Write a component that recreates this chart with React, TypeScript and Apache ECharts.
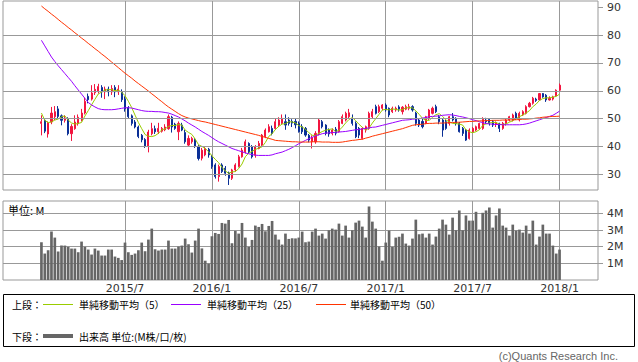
import { useEffect, useRef } from "react";
import * as echarts from "echarts";

// weekly bars, first week starting 2015-01-12; PAD empty weeks on each side
const PAD = 11;
const FIRST_WEEK_UTC = Date.UTC(2015, 0, 12);

const OPEN = [
  48.3, 49.4, 44.5, 48.8, 50.7, 53.5, 51.0, 49.4, 50.0, 44.6,
  46.4, 48.2, 49.5, 52.0, 58.0, 57.0, 59.3, 59.8, 61.2, 59.6,
  60.6, 59.6, 61.2, 59.6, 59.5, 57.0, 54.0, 51.0, 48.8, 47.0,
  44.0, 42.5, 40.2, 44.6, 46.4, 45.3, 45.5, 46.0, 46.4, 50.5,
  48.0, 45.3, 47.7, 45.0, 40.5, 41.7, 42.5, 40.0, 35.8, 37.0,
  39.0, 36.0, 33.4, 29.2, 33.4, 32.2, 30.5, 28.6, 31.6, 32.8,
  36.3, 38.1, 41.1, 39.9, 36.9, 39.3, 40.5, 43.5, 45.3, 46.5,
  46.5, 47.7, 48.3, 48.9, 49.5, 49.0, 49.0, 48.3, 47.1, 46.5,
  44.0, 41.7, 41.7, 44.7, 48.9, 47.7, 45.9, 44.7, 46.2, 45.3,
  48.3, 49.5, 50.7, 50.1, 48.3, 46.5, 42.9, 45.9, 46.5, 50.7,
  54.3, 52.5, 53.7, 54.9, 53.7, 52.5, 53.1, 54.2, 52.5, 53.4,
  53.7, 54.3, 52.0, 49.5, 49.0, 48.3, 50.1, 51.9, 54.3, 50.7,
  49.5, 48.9, 48.3, 50.7, 50.1, 48.3, 46.5, 45.9, 42.9, 45.3,
  45.9, 46.5, 46.5, 49.5, 49.7, 48.9, 47.9, 48.3, 46.5, 48.3,
  49.5, 49.5, 51.9, 49.5, 51.3, 51.9, 54.3, 55.5, 57.0, 56.7,
  59.0, 58.4, 56.7, 57.0, 58.2, 60.2,
];
const CLOSE = [
  48.9, 45.5, 48.5, 52.0, 52.5, 50.8, 49.4, 50.2, 44.6, 47.2,
  48.8, 50.5, 52.0, 56.2, 56.8, 59.2, 60.5, 61.5, 59.6, 60.6,
  59.6, 60.8, 59.6, 60.6, 56.8, 53.5, 50.7, 48.3, 47.0, 43.6,
  42.4, 40.2, 45.2, 46.4, 45.3, 46.5, 46.5, 47.0, 50.7, 47.0,
  46.5, 48.3, 45.9, 41.7, 42.9, 42.9, 40.0, 35.7, 38.7, 39.3,
  37.0, 32.8, 29.2, 32.8, 31.0, 30.4, 28.6, 31.6, 33.4, 36.3,
  38.7, 41.7, 38.1, 36.3, 39.9, 41.1, 44.1, 45.9, 47.1, 44.7,
  48.9, 49.5, 50.1, 47.7, 48.3, 48.4, 47.8, 45.3, 45.3, 44.1,
  42.3, 43.2, 44.7, 49.5, 47.1, 44.7, 44.5, 45.9, 44.8, 48.9,
  50.7, 51.9, 52.1, 48.3, 43.5, 44.1, 46.5, 47.1, 51.9, 52.5,
  51.9, 54.3, 54.9, 53.1, 51.3, 53.7, 53.7, 53.4, 54.1, 54.3,
  54.3, 53.1, 48.3, 47.7, 47.1, 50.7, 53.1, 53.7, 52.5, 48.9,
  45.9, 46.5, 50.7, 49.5, 48.3, 45.3, 44.7, 42.3, 45.9, 46.5,
  47.1, 48.3, 49.8, 48.9, 48.3, 47.7, 48.6, 46.5, 48.3, 49.5,
  50.7, 51.3, 50.1, 51.9, 52.5, 54.3, 55.5, 57.3, 56.5, 59.0,
  57.8, 56.7, 57.3, 57.8, 60.2, 62.0,
];
const LOW = [
  44.0, 44.8, 43.2, 48.0, 49.5, 50.0, 47.6, 48.6, 44.0, 42.0,
  46.0, 47.5, 49.0, 51.5, 55.5, 56.5, 58.5, 59.0, 57.5, 57.0,
  58.0, 58.5, 57.7, 58.5, 56.0, 52.5, 50.0, 47.5, 46.5, 43.0,
  41.5, 39.5, 37.9, 44.0, 44.5, 44.5, 45.0, 45.5, 46.0, 45.0,
  46.0, 42.3, 45.5, 41.0, 40.0, 41.0, 39.5, 35.0, 35.0, 36.5,
  36.0, 32.0, 28.5, 27.4, 30.5, 29.5, 26.2, 28.0, 31.0, 32.5,
  36.0, 37.5, 37.5, 35.7, 36.0, 39.0, 40.0, 43.0, 45.0, 44.0,
  46.0, 47.0, 48.0, 46.0, 47.5, 47.0, 46.5, 45.0, 44.5, 43.5,
  41.5, 39.3, 41.0, 44.0, 46.5, 44.0, 43.5, 44.0, 44.0, 45.0,
  48.0, 49.0, 50.0, 47.5, 43.0, 43.0, 42.5, 45.0, 46.0, 50.0,
  51.5, 52.0, 53.0, 52.5, 50.5, 52.0, 52.5, 52.5, 51.5, 53.0,
  53.0, 52.5, 47.5, 47.0, 46.5, 48.0, 49.5, 51.5, 52.0, 48.0,
  43.5, 46.0, 47.5, 49.0, 47.5, 45.0, 43.8, 42.0, 42.5, 45.0,
  45.5, 46.0, 46.0, 48.3, 47.5, 47.0, 47.0, 45.2, 46.0, 47.5,
  49.0, 49.0, 49.5, 49.0, 51.0, 51.5, 54.0, 55.0, 56.0, 56.5,
  57.5, 56.0, 56.5, 56.5, 57.8, 60.0,
];
const HIGH = [
  51.2, 50.2, 49.0, 54.2, 54.5, 54.5, 51.5, 51.2, 50.5, 48.0,
  51.2, 51.5, 53.5, 57.5, 59.0, 62.0, 62.4, 62.5, 62.0, 61.5,
  61.5, 62.0, 62.0, 62.0, 60.5, 58.0, 54.5, 51.5, 49.5, 47.5,
  44.5, 43.0, 46.0, 48.5, 47.5, 48.5, 47.0, 48.0, 51.5, 51.0,
  48.5, 49.0, 48.5, 46.0, 44.0, 43.5, 43.0, 40.5, 39.5, 40.0,
  39.5, 37.0, 34.0, 33.5, 34.0, 33.0, 31.0, 32.0, 34.0, 37.0,
  39.5, 42.5, 41.5, 40.5, 40.5, 42.0, 44.5, 46.5, 48.0, 47.5,
  50.0, 50.5, 51.5, 51.5, 50.5, 49.8, 50.0, 49.0, 48.0, 47.0,
  44.5, 44.0, 45.5, 50.0, 49.5, 48.0, 46.5, 46.5, 47.0, 49.5,
  51.5, 52.5, 53.5, 51.5, 49.0, 47.0, 47.0, 47.5, 52.5, 53.5,
  55.0, 55.0, 55.2, 55.5, 54.0, 54.3, 54.3, 54.8, 54.5, 55.0,
  55.3, 54.8, 52.5, 50.0, 50.0, 51.0, 53.5, 54.3, 55.0, 51.3,
  50.0, 49.5, 51.0, 52.0, 50.5, 48.8, 47.0, 46.2, 46.5, 47.0,
  47.5, 48.5, 50.5, 50.3, 50.0, 49.5, 49.0, 48.5, 48.8, 50.0,
  51.0, 51.8, 52.5, 52.5, 53.0, 54.8, 56.0, 57.8, 57.5, 59.2,
  59.2, 58.8, 58.0, 58.2, 60.5, 62.6,
];
// million shares per week
const VOLUME = [
  2.27, 1.59, 1.79, 2.91, 2.55, 1.71, 2.07, 2.07, 1.99, 1.89,
  1.89, 1.67, 2.31, 1.99, 1.83, 1.53, 1.89, 1.77, 1.47, 1.47,
  1.83, 1.83, 1.41, 1.33, 1.20, 2.25, 1.67, 1.51, 1.59, 1.79,
  2.25, 1.73, 2.43, 3.09, 1.85, 1.77, 1.83, 1.83, 2.37, 1.89,
  1.89, 2.01, 2.07, 2.49, 2.15, 1.65, 2.37, 3.09, 1.90, 1.16,
  0.98, 2.63, 2.83, 2.77, 3.43, 3.39, 3.61, 2.21, 2.95, 2.79,
  3.43, 2.55, 1.99, 2.41, 3.27, 3.19, 3.37, 2.93, 3.25, 3.55,
  2.73, 2.43, 2.13, 2.79, 2.47, 2.51, 2.50, 2.55, 2.91, 2.27,
  2.31, 2.91, 3.09, 2.67, 2.79, 2.49, 2.99, 3.09, 3.03, 3.39,
  2.67, 3.27, 2.55, 2.99, 3.45, 3.57, 3.21, 2.55, 4.42, 3.51,
  3.09, 2.01, 1.16, 2.25, 2.97, 1.99, 2.55, 2.60, 2.79, 2.19,
  2.07, 2.49, 3.63, 2.75, 2.79, 2.55, 2.79, 2.13, 2.61, 3.09,
  3.63, 3.33, 2.73, 3.75, 2.99, 4.18, 2.99, 3.88, 3.57, 3.57,
  4.10, 3.03, 4.04, 4.18, 4.36, 3.15, 3.88, 4.30, 3.27, 3.15,
  2.67, 3.33, 2.97, 3.03, 2.85, 3.27, 2.79, 3.57, 2.13, 2.61,
  3.33, 2.79, 2.79, 2.07, 1.59, 1.83,
];
const MA25 = [
  78.1, 76.1, 74.1, 72.1, 70.5, 69.0, 67.6, 66.2, 64.8, 63.4,
  61.8, 60.3, 58.8, 57.3, 55.8, 54.9, 54.2, 53.6, 53.3, 53.2,
  53.2, 53.2, 53.3, 53.5, 53.7, 53.9, 53.9, 53.8, 53.5, 53.2,
  52.9, 52.7, 52.6, 52.6, 52.5, 52.5, 52.4, 52.2, 52.0, 51.6,
  51.1, 50.6, 49.9, 49.2, 48.4, 47.7, 47.0, 46.2, 45.4, 44.7,
  44.0, 43.2, 42.4, 41.7, 41.1, 40.5, 39.9, 39.3, 38.9, 38.5,
  38.1, 37.7, 37.4, 37.1, 36.9, 36.8, 36.8, 36.8, 36.8, 37.0,
  37.4, 37.7, 38.0, 38.5, 39.0, 39.6, 40.3, 41.0, 41.6, 42.2,
  42.8, 43.3, 43.8, 44.2, 44.6, 44.8, 44.9, 45.0, 45.1, 45.2,
  45.3, 45.4, 45.6, 45.8, 46.0, 46.1, 46.3, 46.5, 46.7, 46.9,
  47.0, 47.3, 47.6, 47.9, 48.2, 48.5, 48.8, 49.1, 49.4, 49.5,
  49.6, 49.8, 49.9, 50.0, 50.2, 50.4, 50.7, 50.8, 50.9, 51.0,
  51.2, 51.3, 51.4, 51.3, 51.1, 50.8, 50.6, 50.3, 50.0, 49.6,
  49.3, 48.9, 48.6, 48.2, 48.1, 48.0, 47.9, 47.9, 47.8, 47.8,
  47.8, 47.8, 47.8, 47.8, 47.9, 48.1, 48.4, 48.8, 49.2, 49.6,
  50.0, 50.4, 50.8, 51.2, 51.9, 52.7,
];
const MA50 = [
  90.4, 89.4, 88.5, 87.5, 86.6, 85.6, 84.6, 83.7, 82.7, 81.8,
  80.8, 79.9, 78.9, 78.0, 77.0, 76.1, 75.1, 74.2, 73.2, 72.3,
  71.3, 70.3, 69.3, 68.3, 67.3, 66.3, 65.4, 64.5, 63.5, 62.6,
  61.7, 60.8, 59.9, 58.9, 58.0, 57.0, 56.1, 55.1, 54.2, 53.4,
  52.6, 51.8, 51.1, 50.6, 50.2, 49.9, 49.6, 49.3, 49.0, 48.8,
  48.5, 48.2, 47.9, 47.6, 47.3, 47.0, 46.7, 46.4, 46.1, 45.8,
  45.5, 45.2, 44.9, 44.6, 44.3, 44.0, 43.6, 43.3, 42.9, 42.6,
  42.2, 42.1, 42.0, 41.9, 41.8, 41.7, 41.7, 41.6, 41.6, 41.6,
  41.6, 41.7, 41.7, 41.7, 41.6, 41.6, 41.6, 41.5, 41.5, 41.5,
  41.6, 41.8, 42.0, 42.2, 42.3, 42.5, 42.6, 43.0, 43.3, 43.7,
  44.0, 44.3, 44.6, 44.9, 45.2, 45.5, 45.8, 46.1, 46.4, 46.8,
  47.2, 47.6, 47.8, 47.9, 48.0, 48.2, 48.3, 48.3, 48.4, 48.4,
  48.4, 48.5, 48.5, 48.6, 48.7, 48.7, 48.8, 48.9, 49.0, 49.0,
  49.1, 49.2, 49.2, 49.3, 49.3, 49.4, 49.4, 49.4, 49.5, 49.5,
  49.5, 49.6, 49.6, 49.7, 49.8, 49.8, 49.9, 50.0, 50.2, 50.3,
  50.5, 50.6, 50.7, 50.8, 50.8, 50.9,
];
// 5-week average for the first weeks (earlier closes are outside the chart)
const MA5_START = [52.0, 49.4, 48.6, 48.8];

const PRICE_TICKS = [30, 40, 50, 60, 70, 80, 90];
const PRICE_GRIDLINES = [30, 40, 50, 60, 70, 80];
const VOLUME_TICKS = [1, 2, 3, 4];

const UP = "#f2153f";
const DOWN = "#0a2f96";
const C_MA5 = "#99cc00";
const C_MA25 = "#9900ff";
const C_MA50 = "#ff3300";
const C_VOL = "#666666";
const C_GRID = "#999999";

function weekLabels(n: number): string[] {
  const out: string[] = [];
  for (let k = 0; k < n; k++) {
    const d = new Date(FIRST_WEEK_UTC + (k - PAD) * 7 * 86400000);
    out.push(`${d.getUTCFullYear()}/${d.getUTCMonth() + 1}/${d.getUTCDate()}`);
  }
  return out;
}
function isHalfYearStart(label: string): boolean {
  const [, m, d] = label.split("/").map(Number);
  return (m === 1 || m === 7) && d <= 7;
}
function pad(arr: (number | string)[]): (number | string)[] {
  const p = new Array(PAD).fill("-");
  return [...p, ...arr, ...p];
}

export default function App() {
  const ref = useRef<HTMLDivElement>(null);

  useEffect(() => {
    if (!ref.current) return;
    const chart = echarts.init(ref.current, undefined, { renderer: "svg" });
    const n = CLOSE.length + 2 * PAD;
    const cats = weekLabels(n);
    const ma5 = CLOSE.map((_, i) => {
      if (i < 4) return MA5_START[i];
      let s = 0;
      for (let k = i - 4; k <= i; k++) s += CLOSE[k];
      return +(s / 5).toFixed(2);
    });
    const candles = CLOSE.map((c, i) => [i + PAD, OPEN[i], c, LOW[i], HIGH[i]]);

    const font = "DejaVu Sans";
    const jp = "Noto Sans CJK JP";
    const markFn = (i: number, v: string) => i >= PAD && i < PAD + CLOSE.length && isHalfYearStart(v);

    chart.setOption({
      animation: false,
      backgroundColor: "#ffffff",
      grid: [
        { left: 3, top: 1, width: 595, height: 189, show: true, borderColor: C_GRID, borderWidth: 1, backgroundColor: "transparent" },
        { left: 3, top: 201, width: 595, height: 79, show: true, borderColor: C_GRID, borderWidth: 1, backgroundColor: "transparent" },
      ],
      xAxis: [
        {
          type: "category", gridIndex: 0, data: cats, boundaryGap: true,
          axisLine: { show: false }, axisTick: { show: false }, axisLabel: { show: false },
          splitLine: { show: true, interval: markFn, alignWithLabel: true, lineStyle: { color: C_GRID, width: 1 } },
        },
        {
          type: "category", gridIndex: 1, data: cats, boundaryGap: true,
          axisLine: { show: false }, axisTick: { show: false },
          axisLabel: {
            show: true, interval: markFn, margin: 3, color: "#333", fontSize: 11, fontFamily: font,
            formatter: (v: string) => v.split("/").slice(0, 2).join("/"),
          },
          splitLine: { show: true, interval: markFn, alignWithLabel: true, lineStyle: { color: C_GRID, width: 1 } },
        },
      ],
      yAxis: [
        {
          type: "value", gridIndex: 0, position: "right", min: 24.4, max: 92.2, scale: true,
          axisLine: { show: false },
          axisTick: { show: true, length: 5, customValues: PRICE_TICKS, lineStyle: { color: C_GRID } },
          axisLabel: { show: true, customValues: PRICE_TICKS, margin: 9, color: "#333", fontSize: 11, fontFamily: font },
          splitLine: { show: false },
        },
        {
          type: "value", gridIndex: 1, position: "right", min: 0, max: 4.75, interval: 1,
          axisLine: { show: false },
          axisTick: { show: true, length: 5, customValues: VOLUME_TICKS, lineStyle: { color: C_GRID } },
          axisLabel: {
            show: true, customValues: VOLUME_TICKS, margin: 9, color: "#333", fontSize: 11, fontFamily: font,
            formatter: (v: number) => (Number.isInteger(v) && v >= 1 && v <= 4 ? `${v}M` : ""),
          },
          splitLine: { show: true, lineStyle: { color: C_GRID, width: 1 } },
        },
      ],
      series: [
        {
          name: "grid", type: "line", xAxisIndex: 0, yAxisIndex: 0, data: [], z: 1, silent: true,
          markLine: {
            silent: true, symbol: ["none", "none"], label: { show: false }, animation: false,
            lineStyle: { color: C_GRID, width: 1, type: "solid" },
            emphasis: { disabled: true },
            data: PRICE_GRIDLINES.map((v) => ({ yAxis: v })),
          },
        },
        {
          name: "price", type: "candlestick", xAxisIndex: 0, yAxisIndex: 0,
          data: candles, encode: { x: 0, y: [1, 2, 3, 4] }, barWidth: 1.6,
          itemStyle: { color: UP, color0: DOWN, borderColor: UP, borderColor0: DOWN, borderWidth: 1 },
          z: 3,
        },
        {
          name: "単純移動平均(5)", type: "line", xAxisIndex: 0, yAxisIndex: 0, data: pad(ma5),
          showSymbol: false, symbol: "none", lineStyle: { color: C_MA5, width: 1 }, z: 4,
        },
        {
          name: "単純移動平均(25)", type: "line", xAxisIndex: 0, yAxisIndex: 0, data: pad(MA25),
          showSymbol: false, symbol: "none", lineStyle: { color: C_MA25, width: 1 }, z: 4,
        },
        {
          name: "単純移動平均(50)", type: "line", xAxisIndex: 0, yAxisIndex: 0, data: pad(MA50),
          showSymbol: false, symbol: "none", lineStyle: { color: C_MA50, width: 1 }, z: 4,
        },
        {
          name: "出来高", type: "bar", xAxisIndex: 1, yAxisIndex: 1, data: pad(VOLUME),
          barWidth: "80%", itemStyle: { color: C_VOL }, z: 3,
        },
      ],
      graphic: [
        { type: "text", left: 8, top: 204, style: { text: "単位: M", fontSize: 11, fontFamily: jp, fill: "#000" } },
        { type: "rect", shape: { x: 3.5, y: 294.5, width: 631, height: 52 }, style: { fill: "#fff", stroke: "#000", lineWidth: 1 } },
        { type: "text", x: 12, y: 304, style: { text: "上段：", fontSize: 10, fontFamily: jp, fill: "#000", verticalAlign: "middle" } },
        { type: "line", shape: { x1: 43, y1: 304.5, x2: 73, y2: 304.5 }, style: { stroke: C_MA5, lineWidth: 1 } },
        { type: "text", x: 79, y: 304, style: { text: "単純移動平均（5）", fontSize: 10, fontFamily: jp, fill: "#000", verticalAlign: "middle" } },
        { type: "line", shape: { x1: 171, y1: 304.5, x2: 201, y2: 304.5 }, style: { stroke: C_MA25, lineWidth: 1 } },
        { type: "text", x: 207, y: 304, style: { text: "単純移動平均（25）", fontSize: 10, fontFamily: jp, fill: "#000", verticalAlign: "middle" } },
        { type: "line", shape: { x1: 316, y1: 304.5, x2: 346, y2: 304.5 }, style: { stroke: C_MA50, lineWidth: 1 } },
        { type: "text", x: 350, y: 304, style: { text: "単純移動平均（50）", fontSize: 10, fontFamily: jp, fill: "#000", verticalAlign: "middle" } },
        { type: "text", x: 12, y: 336, style: { text: "下段：", fontSize: 10, fontFamily: jp, fill: "#000", verticalAlign: "middle" } },
        { type: "line", shape: { x1: 43, y1: 336, x2: 73, y2: 336 }, style: { stroke: C_VOL, lineWidth: 4 } },
        { type: "text", x: 79, y: 336, style: { text: "出来高 単位:(M株/口/枚)", fontSize: 10, fontFamily: jp, fill: "#000", verticalAlign: "middle" } },
        { type: "text", x: 618, y: 356, style: { text: "(c)Quants Research Inc.", fontSize: 11, fontFamily: "Liberation Sans", fill: "#666", align: "right", verticalAlign: "middle" } },
      ],
    });

    return () => chart.dispose();
  }, []);

  return (
    <div
      ref={ref}
      style={{ position: "absolute", left: 0, top: 0, width: 638, height: 362, background: "#fff" }}
    />
  );
}
